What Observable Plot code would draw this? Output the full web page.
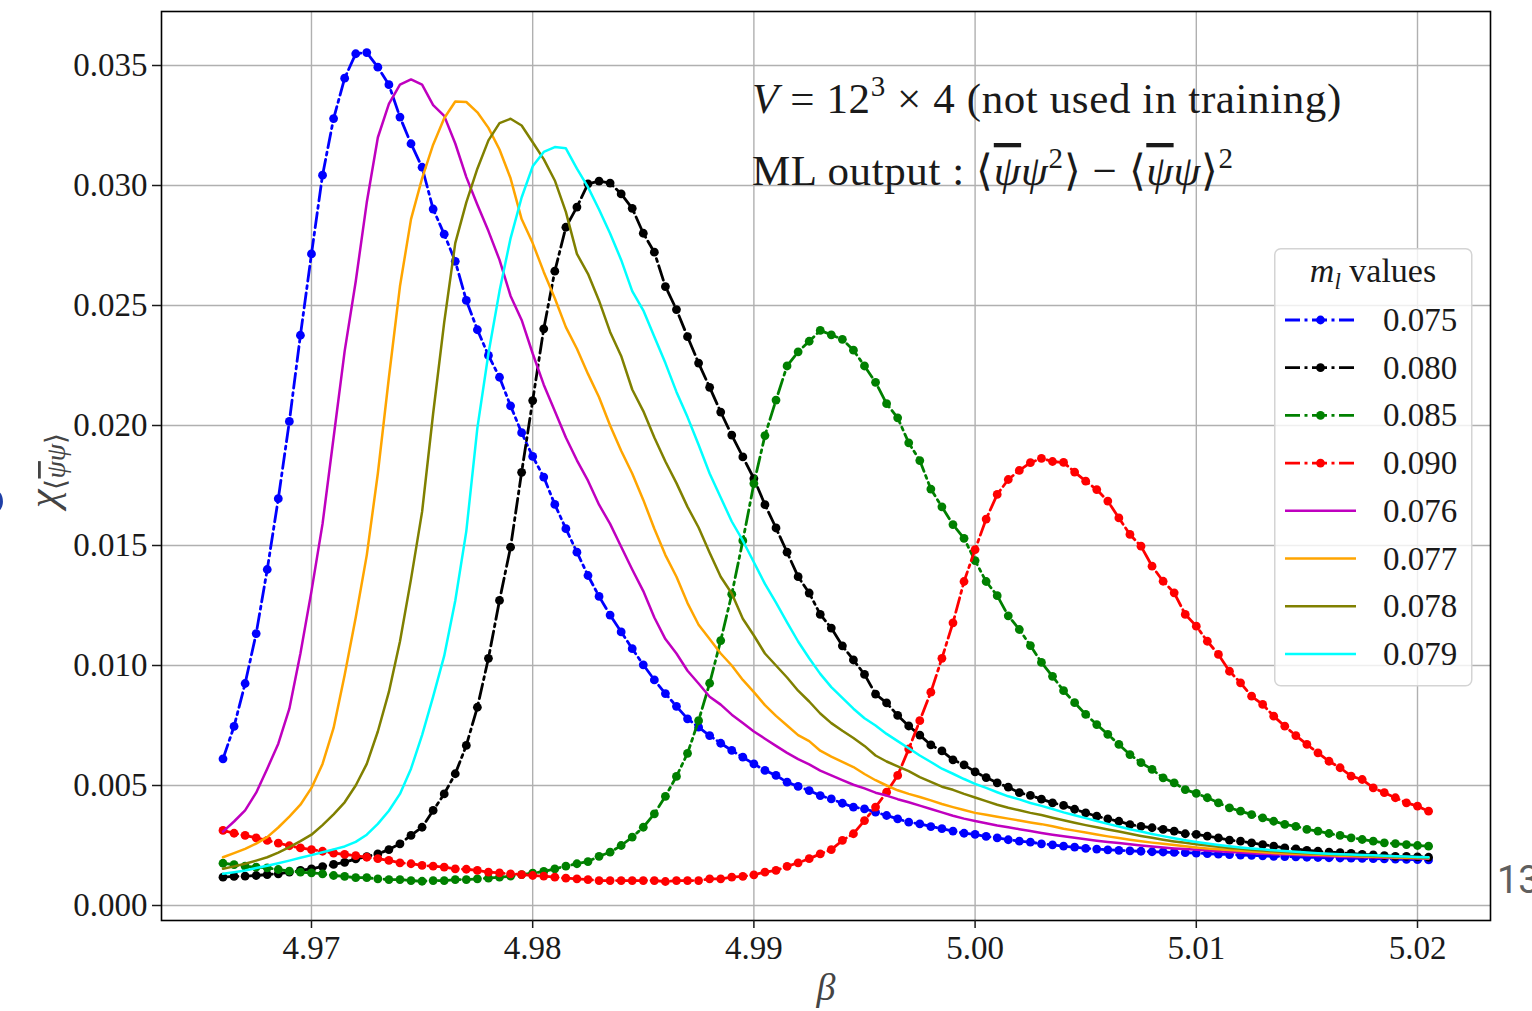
<!DOCTYPE html>
<html><head><meta charset="utf-8">
<script src="https://cdn.jsdelivr.net/npm/d3@7"></script>
<script src="https://cdn.jsdelivr.net/npm/@observablehq/plot@0.6"></script>
<style>
html,body{margin:0;padding:0;background:#fff;overflow:hidden;}
#wrap{position:relative;width:1532px;height:1011px;overflow:hidden;background:#fff;}
#wrap svg{display:block;}
</style></head><body><div id="wrap"></div>
<script>
// beta grid (x values)
const beta = [4.966,4.9665,4.967,4.9675,4.968,4.9685,4.969,4.9695,4.97,4.9705,4.971,4.9715,4.972,4.9725,4.973,4.9735,4.974,4.9745,4.975,4.9755,4.976,4.9765,4.977,4.9775,4.978,4.9785,4.979,4.9795,4.98,4.9805,4.981,4.9815,4.982,4.9825,4.983,4.9835,4.984,4.9845,4.985,4.9855,4.986,4.9865,4.987,4.9875,4.988,4.9885,4.989,4.9895,4.99,4.9905,4.991,4.9915,4.992,4.9925,4.993,4.9935,4.994,4.9945,4.995,4.9955,4.996,4.9965,4.997,4.9975,4.998,4.9985,4.999,4.9995,5.0,5.0005,5.001,5.0015,5.002,5.0025,5.003,5.0035,5.004,5.0045,5.005,5.0055,5.006,5.0065,5.007,5.0075,5.008,5.0085,5.009,5.0095,5.01,5.0105,5.011,5.0115,5.012,5.0125,5.013,5.0135,5.014,5.0145,5.015,5.0155,5.016,5.0165,5.017,5.0175,5.018,5.0185,5.019,5.0195,5.02,5.0205];

const chi075 = [0.00611,0.00746,0.00925,0.01133,0.01400,0.01695,0.02017,0.02376,0.02715,0.03043,0.03279,0.03447,0.03549,0.03554,0.03493,0.03420,0.03285,0.03174,0.03076,0.02902,0.02797,0.02684,0.02521,0.02399,0.02292,0.02201,0.02082,0.01970,0.01871,0.01785,0.01671,0.01570,0.01472,0.01375,0.01288,0.01210,0.01140,0.01070,0.01003,0.00940,0.00883,0.00830,0.00778,0.00743,0.00708,0.00676,0.00646,0.00618,0.00590,0.00563,0.00542,0.00514,0.00496,0.00479,0.00458,0.00444,0.00426,0.00410,0.00403,0.00389,0.00375,0.00361,0.00347,0.00340,0.00329,0.00320,0.00310,0.00301,0.00296,0.00288,0.00282,0.00274,0.00268,0.00264,0.00257,0.00253,0.00247,0.00243,0.00238,0.00235,0.00232,0.00230,0.00228,0.00226,0.00224,0.00223,0.00221,0.00220,0.00218,0.00216,0.00214,0.00212,0.00210,0.00209,0.00207,0.00205,0.00204,0.00203,0.00201,0.00200,0.00199,0.00198,0.00197,0.00196,0.00195,0.00194,0.00193,0.00192,0.00191,0.00190];

const chi080 = [0.00118,0.00121,0.00122,0.00125,0.00129,0.00132,0.00139,0.00146,0.00153,0.00162,0.00171,0.00180,0.00194,0.00204,0.00215,0.00233,0.00257,0.00292,0.00326,0.00396,0.00465,0.00549,0.00667,0.00826,0.01030,0.01271,0.01493,0.01805,0.02104,0.02403,0.02643,0.02826,0.02910,0.03007,0.03018,0.03010,0.02965,0.02905,0.02801,0.02722,0.02579,0.02483,0.02370,0.02260,0.02159,0.02056,0.01960,0.01869,0.01779,0.01670,0.01573,0.01472,0.01370,0.01302,0.01213,0.01156,0.01082,0.01023,0.00963,0.00881,0.00844,0.00792,0.00748,0.00710,0.00669,0.00644,0.00607,0.00586,0.00557,0.00533,0.00511,0.00493,0.00470,0.00459,0.00443,0.00428,0.00417,0.00401,0.00386,0.00372,0.00361,0.00351,0.00337,0.00330,0.00324,0.00317,0.00310,0.00299,0.00296,0.00289,0.00282,0.00272,0.00268,0.00261,0.00254,0.00247,0.00240,0.00236,0.00230,0.00226,0.00222,0.00220,0.00217,0.00213,0.00211,0.00208,0.00205,0.00205,0.00203,0.00201];

const chi085 = [0.00176,0.00170,0.00164,0.00160,0.00157,0.00150,0.00143,0.00139,0.00136,0.00132,0.00125,0.00121,0.00116,0.00116,0.00111,0.00108,0.00108,0.00104,0.00101,0.00104,0.00104,0.00108,0.00108,0.00111,0.00114,0.00118,0.00122,0.00129,0.00135,0.00142,0.00153,0.00164,0.00174,0.00183,0.00205,0.00222,0.00250,0.00285,0.00326,0.00382,0.00455,0.00538,0.00634,0.00770,0.00926,0.01104,0.01297,0.01520,0.01758,0.01958,0.02106,0.02248,0.02307,0.02351,0.02396,0.02378,0.02359,0.02314,0.02248,0.02180,0.02091,0.02032,0.01928,0.01854,0.01735,0.01661,0.01587,0.01530,0.01437,0.01350,0.01291,0.01207,0.01150,0.01083,0.01013,0.00955,0.00895,0.00845,0.00796,0.00754,0.00713,0.00671,0.00629,0.00595,0.00567,0.00532,0.00511,0.00483,0.00467,0.00449,0.00428,0.00407,0.00393,0.00379,0.00365,0.00351,0.00338,0.00330,0.00317,0.00310,0.00300,0.00292,0.00282,0.00275,0.00268,0.00261,0.00258,0.00254,0.00250,0.00247];

const chi090 = [0.00313,0.00301,0.00292,0.00282,0.00271,0.00260,0.00249,0.00240,0.00233,0.00226,0.00218,0.00213,0.00208,0.00201,0.00195,0.00188,0.00178,0.00174,0.00167,0.00164,0.00160,0.00153,0.00151,0.00146,0.00139,0.00136,0.00132,0.00129,0.00125,0.00122,0.00118,0.00114,0.00111,0.00108,0.00104,0.00104,0.00104,0.00104,0.00104,0.00104,0.00100,0.00104,0.00104,0.00104,0.00111,0.00111,0.00118,0.00121,0.00128,0.00139,0.00146,0.00163,0.00178,0.00195,0.00215,0.00233,0.00271,0.00299,0.00354,0.00410,0.00472,0.00542,0.00652,0.00770,0.00889,0.01030,0.01178,0.01350,0.01483,0.01610,0.01713,0.01775,0.01813,0.01845,0.01863,0.01850,0.01846,0.01806,0.01768,0.01733,0.01685,0.01615,0.01546,0.01497,0.01414,0.01351,0.01303,0.01213,0.01164,0.01101,0.01046,0.00976,0.00928,0.00872,0.00838,0.00789,0.00747,0.00708,0.00671,0.00636,0.00601,0.00574,0.00539,0.00525,0.00490,0.00470,0.00449,0.00428,0.00414,0.00393];

const chi076 = [0.00308,0.00350,0.00396,0.00470,0.00570,0.00674,0.00820,0.01050,0.01310,0.01590,0.01950,0.02310,0.02600,0.02930,0.03200,0.03340,0.03420,0.03442,0.03420,0.03335,0.03290,0.03175,0.03035,0.02920,0.02810,0.02690,0.02540,0.02440,0.02300,0.02170,0.02060,0.01950,0.01855,0.01770,0.01670,0.01590,0.01495,0.01400,0.01310,0.01200,0.01110,0.01050,0.00978,0.00925,0.00870,0.00837,0.00795,0.00760,0.00725,0.00695,0.00665,0.00636,0.00610,0.00588,0.00562,0.00542,0.00522,0.00503,0.00488,0.00470,0.00458,0.00443,0.00430,0.00416,0.00402,0.00388,0.00374,0.00362,0.00352,0.00343,0.00333,0.00326,0.00318,0.00310,0.00302,0.00295,0.00289,0.00282,0.00276,0.00270,0.00265,0.00260,0.00255,0.00250,0.00246,0.00242,0.00238,0.00235,0.00232,0.00229,0.00226,0.00223,0.00221,0.00218,0.00216,0.00214,0.00212,0.00210,0.00208,0.00206,0.00205,0.00203,0.00202,0.00201,0.00200,0.00199,0.00198,0.00197,0.00196,0.00195];

const chi077 = [0.00201,0.00218,0.00236,0.00258,0.00285,0.00325,0.00370,0.00420,0.00490,0.00590,0.00740,0.00960,0.01200,0.01460,0.01800,0.02200,0.02580,0.02860,0.03030,0.03170,0.03280,0.03350,0.03348,0.03305,0.03240,0.03150,0.03030,0.02860,0.02760,0.02640,0.02530,0.02410,0.02320,0.02215,0.02118,0.02000,0.01895,0.01800,0.01690,0.01570,0.01460,0.01370,0.01260,0.01170,0.01110,0.01050,0.01000,0.00940,0.00889,0.00835,0.00790,0.00750,0.00710,0.00685,0.00645,0.00620,0.00598,0.00577,0.00548,0.00522,0.00500,0.00480,0.00465,0.00452,0.00438,0.00423,0.00410,0.00398,0.00386,0.00378,0.00370,0.00362,0.00354,0.00346,0.00339,0.00330,0.00320,0.00312,0.00304,0.00296,0.00288,0.00281,0.00274,0.00268,0.00262,0.00257,0.00252,0.00247,0.00242,0.00238,0.00234,0.00231,0.00228,0.00225,0.00222,0.00219,0.00217,0.00215,0.00213,0.00211,0.00209,0.00207,0.00206,0.00204,0.00203,0.00202,0.00200,0.00199,0.00198,0.00197];

const chi078 = [0.00153,0.00163,0.00174,0.00187,0.00201,0.00220,0.00243,0.00268,0.00295,0.00335,0.00380,0.00430,0.00500,0.00590,0.00725,0.00890,0.01100,0.01360,0.01640,0.02050,0.02430,0.02760,0.02930,0.03070,0.03188,0.03260,0.03278,0.03250,0.03180,0.03110,0.03021,0.02890,0.02715,0.02632,0.02520,0.02390,0.02290,0.02150,0.02060,0.01950,0.01850,0.01760,0.01661,0.01575,0.01470,0.01370,0.01300,0.01195,0.01125,0.01050,0.01000,0.00950,0.00895,0.00850,0.00800,0.00760,0.00728,0.00698,0.00665,0.00625,0.00600,0.00580,0.00560,0.00535,0.00515,0.00495,0.00482,0.00465,0.00450,0.00435,0.00420,0.00407,0.00397,0.00386,0.00377,0.00366,0.00355,0.00345,0.00335,0.00326,0.00317,0.00308,0.00299,0.00290,0.00282,0.00274,0.00267,0.00261,0.00255,0.00250,0.00245,0.00240,0.00236,0.00232,0.00229,0.00226,0.00223,0.00220,0.00218,0.00216,0.00214,0.00212,0.00210,0.00208,0.00206,0.00205,0.00203,0.00202,0.00200,0.00199];

const chi079 = [0.00132,0.00139,0.00146,0.00156,0.00166,0.00176,0.00187,0.00199,0.00210,0.00222,0.00234,0.00246,0.00265,0.00295,0.00340,0.00395,0.00465,0.00570,0.00710,0.00870,0.01040,0.01270,0.01560,0.01990,0.02300,0.02560,0.02780,0.02950,0.03080,0.03140,0.03160,0.03155,0.03070,0.02993,0.02900,0.02800,0.02690,0.02560,0.02480,0.02370,0.02260,0.02140,0.02035,0.01920,0.01800,0.01700,0.01600,0.01520,0.01430,0.01340,0.01262,0.01180,0.01100,0.01030,0.00965,0.00910,0.00865,0.00820,0.00780,0.00750,0.00715,0.00685,0.00655,0.00625,0.00598,0.00570,0.00549,0.00527,0.00507,0.00490,0.00472,0.00455,0.00442,0.00427,0.00415,0.00402,0.00388,0.00376,0.00364,0.00352,0.00340,0.00329,0.00318,0.00308,0.00298,0.00289,0.00280,0.00272,0.00265,0.00258,0.00252,0.00247,0.00242,0.00238,0.00234,0.00230,0.00227,0.00224,0.00221,0.00218,0.00216,0.00214,0.00212,0.00210,0.00209,0.00207,0.00205,0.00204,0.00202,0.00201];

const seriesNames = ["0.075","0.080","0.085","0.090","0.076","0.077","0.078","0.079"];
const seriesColors = ["#0000ff","#000000","#008000","#ff0000","#bf00bf","#ffa500","#808000","#00ffff"];
const seriesDashed = [true,true,true,true,false,false,false,false];
const seriesValues = [chi075,chi080,chi085,chi090,chi076,chi077,chi078,chi079];

const xTicks = [4.97,4.98,4.99,5.00,5.01,5.02];
const yTicks = [0,0.005,0.010,0.015,0.020,0.025,0.030,0.035];

const rows = [];
seriesNames.forEach((name,k) => beta.forEach((b,i) => rows.push({beta:b, chi:seriesValues[k][i], m:name})));

const DASH = "15,4.5,3,4.5";
const marks = [
  Plot.gridX(xTicks, {stroke:"#b0b0b0", strokeOpacity:1, strokeWidth:1.4}),
  Plot.gridY(yTicks, {stroke:"#b0b0b0", strokeOpacity:1, strokeWidth:1.4})
];
seriesNames.forEach((name,k) => {
  const d = rows.filter(r => r.m === name);
  if (seriesDashed[k]) {
    marks.push(Plot.line(d, {x:"beta", y:"chi", stroke:seriesColors[k], strokeWidth:2.8, strokeDasharray:DASH}));
    marks.push(Plot.dot(d, {x:"beta", y:"chi", r:4.4, fill:seriesColors[k], stroke:"none"}));
  }
});
seriesNames.forEach((name,k) => {
  const d = rows.filter(r => r.m === name);
  if (!seriesDashed[k]) {
    marks.push(Plot.line(d, {x:"beta", y:"chi", stroke:seriesColors[k], strokeWidth:2.5}));
  }
});
marks.push(Plot.frame({stroke:"#000", strokeWidth:1.6}));
marks.push(Plot.axisX(xTicks, {tickFormat:d3.format(".2f"), tickSize:8, tickPadding:7, fontSize:33, label:null, strokeWidth:1.5}));
marks.push(Plot.axisY(yTicks, {tickFormat:d3.format(".3f"), tickSize:9, tickPadding:5, fontSize:33, label:null, strokeWidth:1.5}));

const chart = Plot.plot({
  width:1532, height:1011,
  marginLeft:161, marginRight:42, marginTop:11, marginBottom:91,
  style:{fontFamily:'"Liberation Serif", serif', color:"#1a1a1a", background:"white", overflow:"visible"},
  x:{domain:[4.96322, 5.0233]},
  y:{domain:[-0.000625, 0.03725]},
  marks
});
const wrap = document.getElementById("wrap");
wrap.appendChild(chart);

// overlay: annotations, axis labels and legend
const ov = d3.select(wrap).append("svg")
  .attr("width",1532).attr("height",1011)
  .style("position","absolute").style("left","0px").style("top","0px")
  .attr("font-family",'"Liberation Serif", serif').attr("fill","#1a1a1a");

// psi with a bar drawn over it
function psiBar(t, size) {
  t.append("tspan").attr("font-style","italic").attr("text-decoration","overline").text("ψ");
}

// annotation line 1
const t1 = ov.append("text").attr("x",752).attr("y",113).attr("font-size",43).attr("letter-spacing",0.6);
t1.append("tspan").attr("font-style","italic").text("V");
t1.append("tspan").text(" = 12");
t1.append("tspan").attr("font-size",29).attr("dy",-17).text("3");
t1.append("tspan").attr("dy",17).text(" × 4 (not used in training)");
// annotation line 2
const t2 = ov.append("text").attr("x",752).attr("y",185).attr("font-size",43).attr("letter-spacing",0.6);
t2.append("tspan").text("ML output : ⟨");
psiBar(t2);
t2.append("tspan").attr("font-style","italic").text("ψ");
t2.append("tspan").attr("font-size",29).attr("dy",-17).text("2");
t2.append("tspan").attr("dy",17).text("⟩ − ⟨");
psiBar(t2);
t2.append("tspan").attr("font-style","italic").text("ψ");
t2.append("tspan").text("⟩");
t2.append("tspan").attr("font-size",29).attr("dy",-17).text("2");

// x label
ov.append("text").attr("x",826).attr("y",1000).attr("font-size",38).attr("font-style","italic")
  .attr("text-anchor","middle").attr("fill","#444").text("β");
// y label
const yl = ov.append("text").attr("transform","translate(57,508) rotate(-90)").attr("font-size",42).attr("fill","#444");
yl.append("tspan").attr("font-style","italic").text("χ");
yl.append("tspan").attr("font-size",28).attr("dy",8).text("⟨");
yl.append("tspan").attr("font-size",28).attr("font-style","italic").attr("text-decoration","overline").text("ψ");
yl.append("tspan").attr("font-size",28).attr("font-style","italic").text("ψ");
yl.append("tspan").attr("font-size",28).text("⟩");

// legend
const lg = ov.append("g").attr("transform","translate(1274,248)");
lg.append("rect").attr("x",0.75).attr("y",0.75).attr("width",197).attr("height",437).attr("rx",6)
  .attr("fill","white").attr("fill-opacity",0.8).attr("stroke","#d4d4d4").attr("stroke-width",1.5);
const lt = lg.append("text").attr("x",99).attr("y",34).attr("font-size",34).attr("text-anchor","middle");
lt.append("tspan").attr("font-style","italic").text("m");
lt.append("tspan").attr("font-style","italic").attr("font-size",23).attr("dy",7).text("l");
lt.append("tspan").attr("dy",-7).text(" values");
seriesNames.forEach((name,k) => {
  const cy = 72 + 47.7*k;
  const ln = lg.append("line").attr("x1",11).attr("x2",82).attr("y1",cy).attr("y2",cy)
    .attr("stroke",seriesColors[k]).attr("stroke-width",seriesDashed[k]?2.8:2.5);
  if (seriesDashed[k]) {
    ln.attr("stroke-dasharray",DASH);
    lg.append("circle").attr("cx",46.5).attr("cy",cy).attr("r",4.4).attr("fill",seriesColors[k]);
  }
  lg.append("text").attr("x",109).attr("y",cy+11).attr("font-size",33).text(name);
});

// stray page fragments visible at the picture edges
ov.append("text").attr("x",1497).attr("y",893).attr("font-family","Roboto, sans-serif").attr("font-size",38).attr("fill","#5f5f5f").text("13");
ov.append("text").attr("x",-24).attr("y",514).attr("font-family","Roboto, sans-serif").attr("font-weight","bold").attr("font-size",50).attr("fill","#1f3fa6").text("6");
</script></body></html>
